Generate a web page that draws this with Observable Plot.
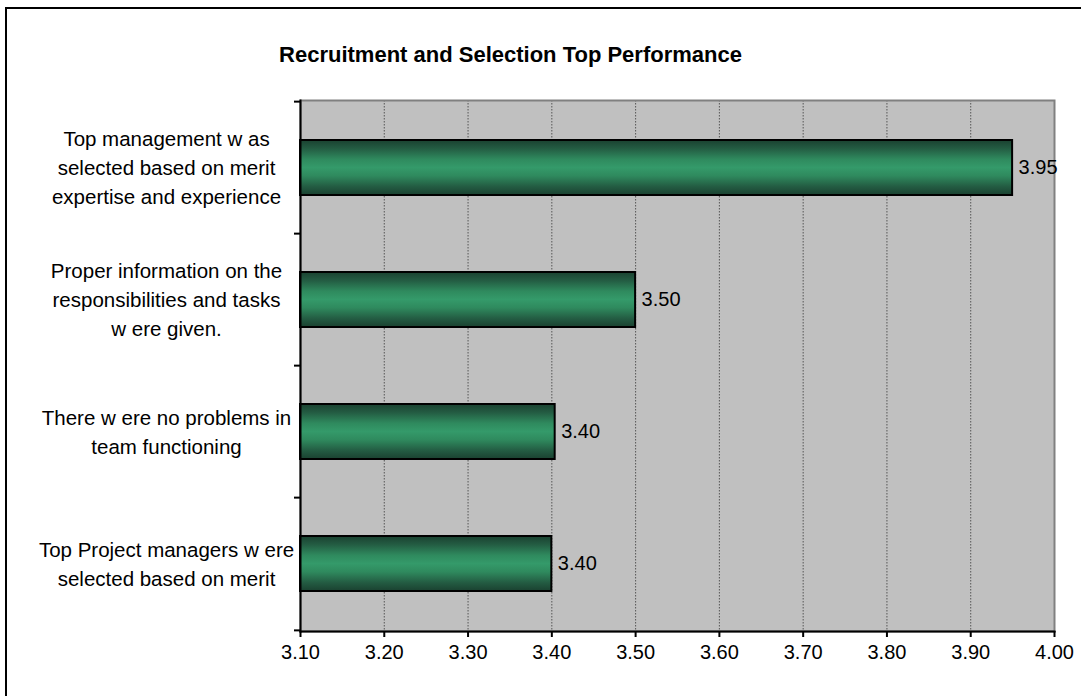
<!DOCTYPE html>
<html>
<head>
<meta charset="utf-8">
<script src="https://cdn.jsdelivr.net/npm/d3@7"></script>
<script src="https://cdn.jsdelivr.net/npm/@observablehq/plot@0.6"></script>
<style>
  html, body { margin: 0; padding: 0; background: #fff; overflow: hidden; width: 1081px; height: 696px; }
  #border { position: absolute; left: 5px; top: 7px; width: 2000px; height: 2000px; border: 2px solid #000; box-sizing: border-box; }
  #title { position: absolute; left: 0; top: 44px; width: 1021px; text-align: center; font: bold 22px "Liberation Sans", Arial, sans-serif; line-height: 22px; color: #000; }
  #chart { position: absolute; left: 0; top: 80px; }
</style>
</head>
<body>
<div id="border"></div>
<div id="title">Recruitment and Selection Top Performance</div>
<div id="chart"></div>
<script>
const categories = [
  "Top management w as\nselected based on merit\nexpertise and experience",
  "Proper information on the\nresponsibilities and tasks\nw ere given.",
  "There w ere no problems in\nteam functioning",
  "Top Project managers w ere\nselected based on merit"
];
const values = [3.95, 3.50, 3.404, 3.40];
const xTicks = [3.1, 3.2, 3.3, 3.4, 3.5, 3.6, 3.7, 3.8, 3.9, 4.0];

const data = categories.map((c, i) => ({category: c, value: values[i]}));
const fmt = d3.format(".2f");

const height = 616, marginTop = 20, marginBottom = 65;
const step = (height - marginTop - marginBottom) / categories.length;

const svg = Plot.plot({
  width: 1081,
  height,
  marginTop,
  marginBottom,
  marginLeft: 300,
  marginRight: 27,
  style: {fontFamily: "'Liberation Sans', Arial, sans-serif", fontSize: "20px", color: "#000", background: "transparent"},
  x: {domain: [3.1, 4.0], label: null},
  y: {domain: categories, paddingInner: 0.58, paddingOuter: 0.29, label: null},
  marks: [
    Plot.frame({fill: "#c0c0c0", stroke: null}),
    Plot.gridX(xTicks, {stroke: "#555", strokeOpacity: 1, strokeDasharray: "1.5,1.5"}),
    Plot.frame({stroke: "#808080", strokeWidth: 2}),
    Plot.barX(data, {x1: 3.1, x2: "value", y: "category", fill: "url(#barGrad)", stroke: "#000", strokeWidth: 2}),
    Plot.text(data, {x: "value", y: "category", text: d => fmt(d.value), textAnchor: "start", dx: 6, fill: "#000"}),
    Plot.frame({anchor: "left", stroke: "#000", strokeWidth: 2}),
    Plot.frame({anchor: "bottom", stroke: "#000", strokeWidth: 2}),
    Plot.axisX(xTicks, {tickSize: 6, tickPadding: 7, tickFormat: fmt, stroke: "#000", strokeWidth: 2, fill: "#000", label: null}),
    Plot.axisY(categories, {tickSize: 0, tickPadding: 0, textAnchor: "middle", dx: -134, dy: -2, lineHeight: 1.42, fontSize: 20.5, fill: "#000", label: null}),
    Plot.axisY(categories, {tickSize: 6, tickFormat: () => "", dy: -step / 2, stroke: "#000", strokeWidth: 2, label: null}),
    Plot.axisY([categories[categories.length - 1]], {tickSize: 6, tickFormat: () => "", dy: step / 2, stroke: "#000", strokeWidth: 2, label: null})
  ]
});

const defs = d3.select(svg).insert("defs", ":first-child");
const grad = defs.append("linearGradient").attr("id", "barGrad").attr("x1", 0).attr("y1", 0).attr("x2", 0).attr("y2", 1);
[[0, "#1a4130"], [0.15, "#235b42"], [0.35, "#2f8a5e"], [0.5, "#349a6a"], [0.65, "#2f8a5e"], [0.85, "#235b42"], [1, "#1a4130"]]
  .forEach(([o, c]) => grad.append("stop").attr("offset", o).attr("stop-color", c));

document.getElementById("chart").appendChild(svg);
</script>
</body>
</html>
